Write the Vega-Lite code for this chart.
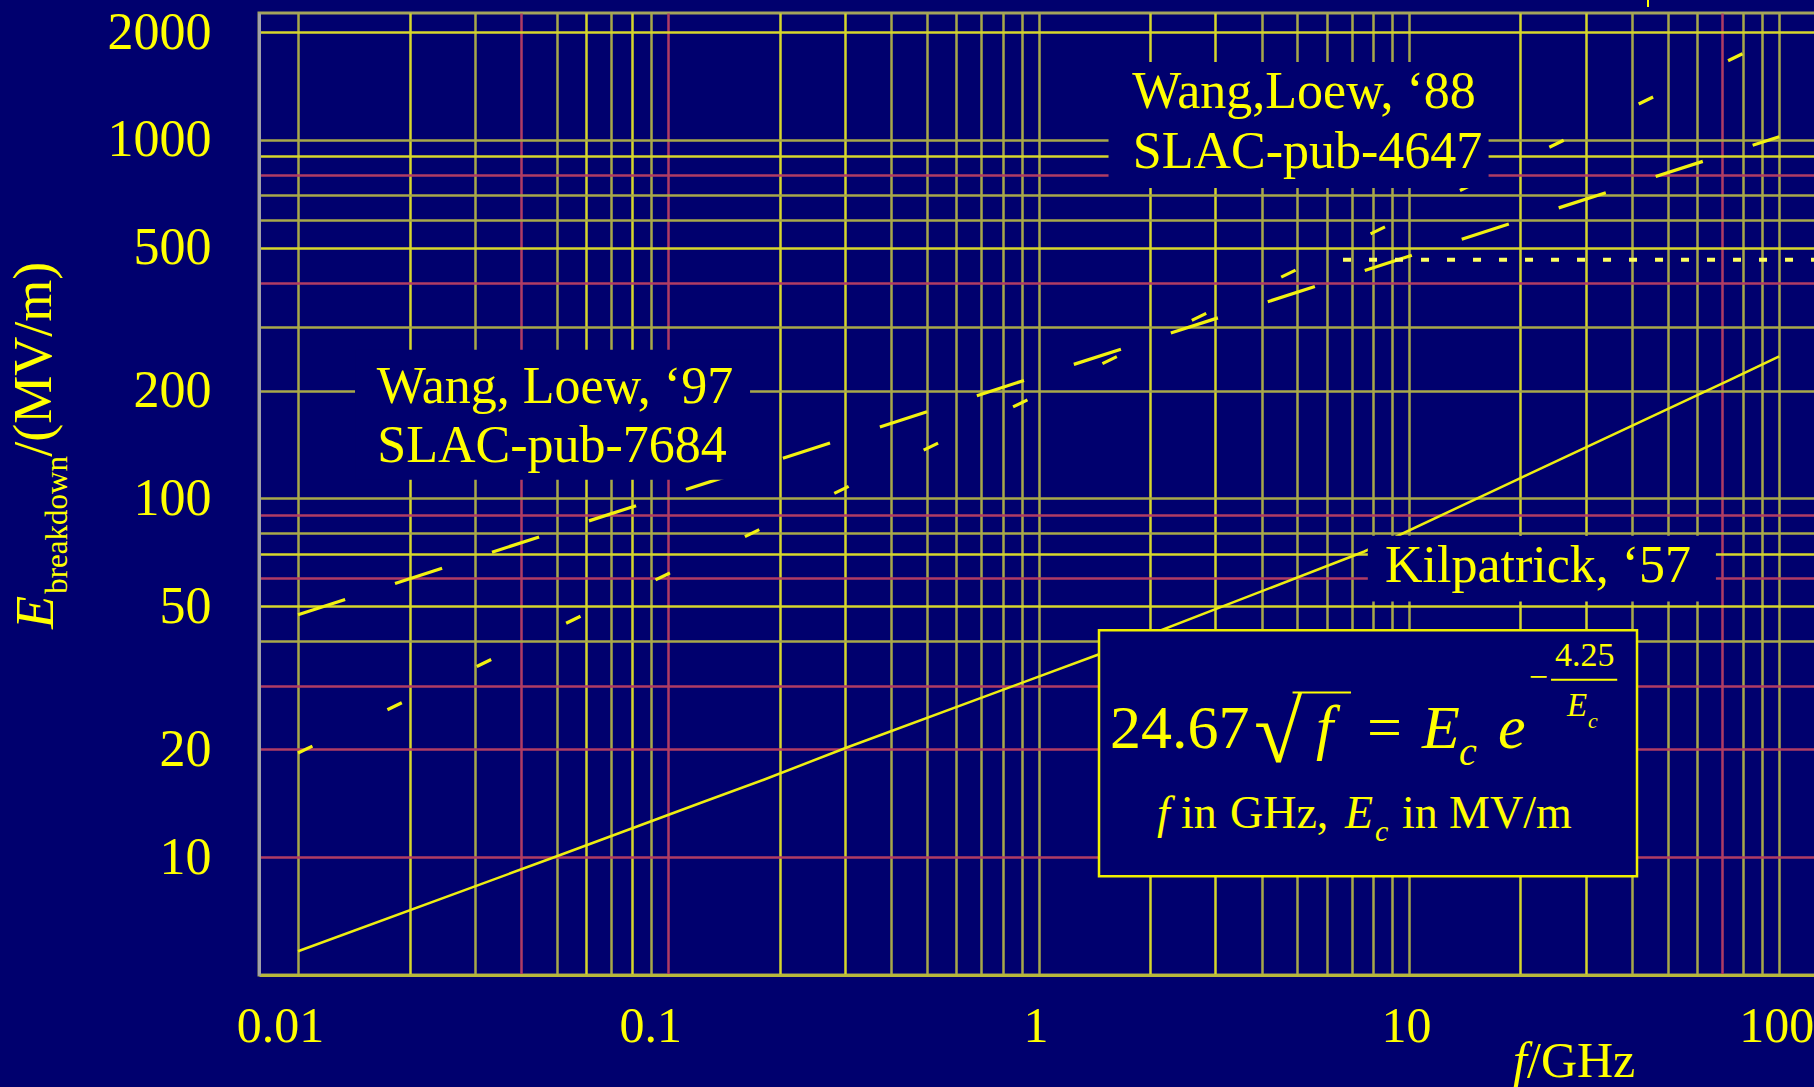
{
  "$schema": "https://vega.github.io/schema/vega-lite/v6.json",
  "width": 1557,
  "height": 962,
  "autosize": {"type": "none"},
  "padding": {"left": 259, "top": 13, "right": 0, "bottom": 112},
  "background": "#00006e",
  "config": {
    "view": {"stroke": "#a4a45c", "strokeWidth": 3, "fill": "#00006e"},
    "font": "Liberation Serif"
  },
  "datasets": {
    "kilpatrick": [
      {"f": 0.01, "E": 5.46}, {"f": 0.05, "E": 10.05}, {"f": 0.122, "E": 14.15},
      {"f": 0.181, "E": 16.43}, {"f": 0.301, "E": 20.14}, {"f": 1.445, "E": 36.66},
      {"f": 7.58, "E": 71.15}, {"f": 20, "E": 114}, {"f": 73.6, "E": 214.3},
      {"f": 100, "E": 249}
    ],
    "wang97": [
      {"f": 0.01, "E": 47.4}, {"f": 0.1, "E": 102.1}, {"f": 1, "E": 220},
      {"f": 10, "E": 474}, {"f": 100, "E": 1021}
    ],
    "wang88": [
      {"f": 0.01, "E": 19.5}, {"f": 0.1, "E": 61.7}, {"f": 1, "E": 195},
      {"f": 10, "E": 616.6}, {"f": 100, "E": 1950}
    ],
    "level": [
      {"f": 6.638, "E": 463}, {"f": 125.7, "E": 463}
    ],
    "labelBoxes": [
      {"f": 0.014254, "f2": 0.16622, "E": 259.8, "E2": 112.77},
      {"f": 1.5446, "f2": 16.41, "E": 1650.8, "E2": 735.0},
      {"f": 7.745, "f2": 67.46, "E": 78.7, "E2": 51.62}
    ],
    "formulaBox": [
      {"f": 1.4557, "f2": 41.3, "E": 42.91, "E2": 8.843}
    ],
    "bars": [
      {"f": 4.85, "f2": 6.977, "E": 28.78, "E2": 28.78},
      {"f": 24.2, "f2": 36.52, "E": 31.22, "E2": 31.22},
      {"f": 44.23, "f2": 44.23, "E": 2458, "E2": 2349}
    ],
    "labels": [
      {"f": 0.04943, "E": 184.9, "t": "Wang, Loew, ‘97"},
      {"f": 0.04852, "E": 126.6, "t": "SLAC-pub-7684"},
      {"f": 5.209, "E": 1226.1, "t": "Wang,Loew, ‘88"},
      {"f": 5.324, "E": 834.1, "t": "SLAC-pub-4647"},
      {"f": 22.32, "E": 58.6, "t": "Kilpatrick, ‘57"}
    ],
    "eqUpright": [
      {"f": 1.5591, "E": 20.18, "t": "24.67"},
      {"f": 7.707, "E": 20.18, "t": "="}
    ],
    "eqItalic": [
      {"f": 5.613, "E": 20.18, "t": "f"},
      {"f": 10.848, "E": 20.18, "t": "E"},
      {"f": 17.4, "E": 20.18, "t": "e"}
    ],
    "eqRoot": [
      {"f": 3.8168, "E": 18.45, "t": "√"}
    ],
    "eqSub": [
      {"f": 13.654, "E": 18.09, "t": "c"}
    ],
    "expUpright": [
      {"f": 22.35, "E": 29.66, "t": "−"},
      {"f": 29.82, "E": 34.01, "t": "4.25"}
    ],
    "expItalic": [
      {"f": 28.44, "E": 24.67, "t": "E"}
    ],
    "expSub": [
      {"f": 30.46, "E": 22.89, "t": "c"}
    ],
    "unitsUpright": [
      {"f": 2.4237, "E": 12.05, "t": "in"},
      {"f": 3.287, "E": 12.05, "t": "GHz,"},
      {"f": 9.58, "E": 12.05, "t": "in"},
      {"f": 12.834, "E": 12.05, "t": "MV/m"}
    ],
    "unitsItalic": [
      {"f": 2.0873, "E": 12.05, "t": "f"},
      {"f": 6.722, "E": 12.05, "t": "E"}
    ],
    "unitsSub": [
      {"f": 8.098, "E": 11.056, "t": "c"}
    ],
    "xTitleItalic": [{"f": 19.1, "E": 2.4409, "t": "f"}],
    "xTitleUpright": [{"f": 20.84, "E": 2.4409, "t": "/GHz"}],
    "yTitleE": [{"f": 0.0021798, "E": 43.33, "t": "E"}],
    "yTitleSub": [{"f": 0.0023777, "E": 54.24, "t": "breakdown"}],
    "yTitleUnit": [{"f": 0.0021529, "E": 130.7, "t": "/(MV/m)"}]
  },
  "encoding": {
    "x": {
      "field": "f",
      "type": "quantitative",
      "scale": {"type": "log", "domain": [0.007845, 125.7], "nice": false},
      "axis": {
        "title": null,
        "orient": "bottom",
        "values": [0.01, 0.02, 0.03, 0.04, 0.05, 0.06, 0.07, 0.08, 0.09, 0.1, 0.2, 0.3, 0.4, 0.5, 0.6, 0.7, 0.8, 0.9, 1, 2, 3, 4, 5, 6, 7, 8, 9, 10, 20, 30, 40, 50, 60, 70, 80, 90, 100],
        "grid": true,
        "ticks": false,
        "gridWidth": 2.5,
        "gridColor": {
          "condition": [
            {"test": "indexof([0.04, 0.1, 70], datum.value) >= 0", "value": "#b03c64"},
            {"test": "indexof([0.02, 0.06, 0.08, 0.2, 0.3, 2, 3, 20, 30], datum.value) >= 0", "value": "#d6d62c"}
          ],
          "value": "#a8a84a"
        },
        "domainColor": "#b8b83c",
        "domainWidth": 3,
        "labelExpr": "indexof([0.01, 0.1, 1, 10, 100], datum.value) >= 0 ? '' + datum.value : ''",
        "labelFont": "Liberation Serif",
        "labelFontSize": 50,
        "labelColor": "#ffff00",
        "labelPadding": 26,
        "labelOverlap": false,
        "labelFlush": false,
        "labelBound": false,
        "labelOffset": {"condition": {"test": "datum.value <= 0.1", "value": -18}, "value": -3}
      }
    },
    "y": {
      "field": "E",
      "type": "quantitative",
      "scale": {"type": "log", "domain": [4.688, 2260], "nice": false},
      "axis": {
        "title": null,
        "values": [10, 20, 30, 40, 50, 60, 70, 80, 90, 100, 200, 300, 400, 500, 600, 700, 800, 900, 1000, 2000],
        "grid": true,
        "ticks": false,
        "gridWidth": 2.5,
        "gridColor": {
          "condition": [
            {"test": "indexof([800, 400, 90, 60, 30, 20, 10], datum.value) >= 0", "value": "#b03c64"},
            {"test": "indexof([2000, 900, 500, 70, 50], datum.value) >= 0", "value": "#d6d62c"}
          ],
          "value": "#a8a84a"
        },
        "domainColor": "#a0a0a8",
        "domainWidth": 3,
        "labelExpr": "indexof([10, 20, 50, 100, 200, 500, 1000, 2000], datum.value) >= 0 ? '' + datum.value : ''",
        "labelFont": "Liberation Serif",
        "labelFontSize": 52,
        "labelColor": "#ffff00",
        "labelPadding": 48,
        "labelOverlap": false,
        "labelFlush": false,
        "labelBound": false
      }
    }
  },
  "layer": [
    {
      "data": {"name": "kilpatrick"},
      "mark": {"type": "line", "color": "#eeee10", "strokeWidth": 2.5}
    },
    {
      "data": {"name": "wang97"},
      "mark": {"type": "line", "color": "#f2f210", "strokeWidth": 3.2, "strokeDash": [49.5, 52.4], "strokeCap": "butt"}
    },
    {
      "data": {"name": "wang88"},
      "mark": {"type": "line", "color": "#f2f210", "strokeWidth": 3.2, "strokeDash": [16, 83.3], "strokeCap": "butt"}
    },
    {
      "data": {"name": "level"},
      "mark": {"type": "line", "color": "#ffff60", "strokeWidth": 4, "strokeDash": [8, 18], "strokeCap": "butt"}
    },
    {
      "data": {"name": "labelBoxes"},
      "mark": {"type": "rect", "fill": "#00006e", "strokeWidth": 0},
      "encoding": {"x2": {"field": "f2"}, "y2": {"field": "E2"}}
    },
    {
      "data": {"name": "formulaBox"},
      "mark": {"type": "rect", "fill": "#00006e", "stroke": "#f0f000", "strokeWidth": 2.5},
      "encoding": {"x2": {"field": "f2"}, "y2": {"field": "E2"}}
    },
    {
      "data": {"name": "bars"},
      "mark": {"type": "rule", "color": "#ffff00", "strokeWidth": 2},
      "encoding": {"x2": {"field": "f2"}, "y2": {"field": "E2"}}
    },
    {
      "data": {"name": "labels"},
      "mark": {"type": "text", "color": "#ffff00", "font": "Liberation Serif", "fontSize": 52, "align": "center", "baseline": "alphabetic"},
      "encoding": {"text": {"field": "t"}}
    },
    {
      "data": {"name": "eqUpright"},
      "mark": {"type": "text", "color": "#ffff00", "font": "Liberation Serif", "fontSize": 62, "align": "left", "baseline": "alphabetic"},
      "encoding": {"text": {"field": "t"}}
    },
    {
      "data": {"name": "eqItalic"},
      "mark": {"type": "text", "color": "#ffff00", "font": "Liberation Serif", "fontStyle": "italic", "fontSize": 62, "align": "left", "baseline": "alphabetic"},
      "encoding": {"text": {"field": "t"}}
    },
    {
      "data": {"name": "eqRoot"},
      "mark": {"type": "text", "color": "#ffff00", "font": "Liberation Serif", "fontSize": 88, "align": "left", "baseline": "alphabetic"},
      "encoding": {"text": {"field": "t"}}
    },
    {
      "data": {"name": "eqSub"},
      "mark": {"type": "text", "color": "#ffff00", "font": "Liberation Serif", "fontStyle": "italic", "fontSize": 40, "align": "left", "baseline": "alphabetic"},
      "encoding": {"text": {"field": "t"}}
    },
    {
      "data": {"name": "expUpright"},
      "mark": {"type": "text", "color": "#ffff00", "font": "Liberation Serif", "fontSize": 34, "align": "center", "baseline": "alphabetic"},
      "encoding": {"text": {"field": "t"}}
    },
    {
      "data": {"name": "expItalic"},
      "mark": {"type": "text", "color": "#ffff00", "font": "Liberation Serif", "fontStyle": "italic", "fontSize": 33, "align": "center", "baseline": "alphabetic"},
      "encoding": {"text": {"field": "t"}}
    },
    {
      "data": {"name": "expSub"},
      "mark": {"type": "text", "color": "#ffff00", "font": "Liberation Serif", "fontStyle": "italic", "fontSize": 22, "align": "left", "baseline": "alphabetic"},
      "encoding": {"text": {"field": "t"}}
    },
    {
      "data": {"name": "unitsUpright"},
      "mark": {"type": "text", "color": "#ffff00", "font": "Liberation Serif", "fontSize": 46, "align": "left", "baseline": "alphabetic"},
      "encoding": {"text": {"field": "t"}}
    },
    {
      "data": {"name": "unitsItalic"},
      "mark": {"type": "text", "color": "#ffff00", "font": "Liberation Serif", "fontStyle": "italic", "fontSize": 46, "align": "left", "baseline": "alphabetic"},
      "encoding": {"text": {"field": "t"}}
    },
    {
      "data": {"name": "unitsSub"},
      "mark": {"type": "text", "color": "#ffff00", "font": "Liberation Serif", "fontStyle": "italic", "fontSize": 30, "align": "left", "baseline": "alphabetic"},
      "encoding": {"text": {"field": "t"}}
    },
    {
      "data": {"name": "xTitleItalic"},
      "mark": {"type": "text", "color": "#ffff00", "font": "Liberation Serif", "fontStyle": "italic", "fontSize": 50, "align": "left", "baseline": "alphabetic"},
      "encoding": {"text": {"field": "t"}}
    },
    {
      "data": {"name": "xTitleUpright"},
      "mark": {"type": "text", "color": "#ffff00", "font": "Liberation Serif", "fontSize": 50, "align": "left", "baseline": "alphabetic"},
      "encoding": {"text": {"field": "t"}}
    },
    {
      "data": {"name": "yTitleE"},
      "mark": {"type": "text", "color": "#ffff00", "font": "Liberation Serif", "fontStyle": "italic", "fontSize": 54, "angle": 270, "align": "left", "baseline": "alphabetic"},
      "encoding": {"text": {"field": "t"}}
    },
    {
      "data": {"name": "yTitleSub"},
      "mark": {"type": "text", "color": "#ffff00", "font": "Liberation Serif", "fontSize": 31, "angle": 270, "align": "left", "baseline": "alphabetic"},
      "encoding": {"text": {"field": "t"}}
    },
    {
      "data": {"name": "yTitleUnit"},
      "mark": {"type": "text", "color": "#ffff00", "font": "Liberation Serif", "fontSize": 54, "angle": 270, "align": "left", "baseline": "alphabetic"},
      "encoding": {"text": {"field": "t"}}
    }
  ]
}
